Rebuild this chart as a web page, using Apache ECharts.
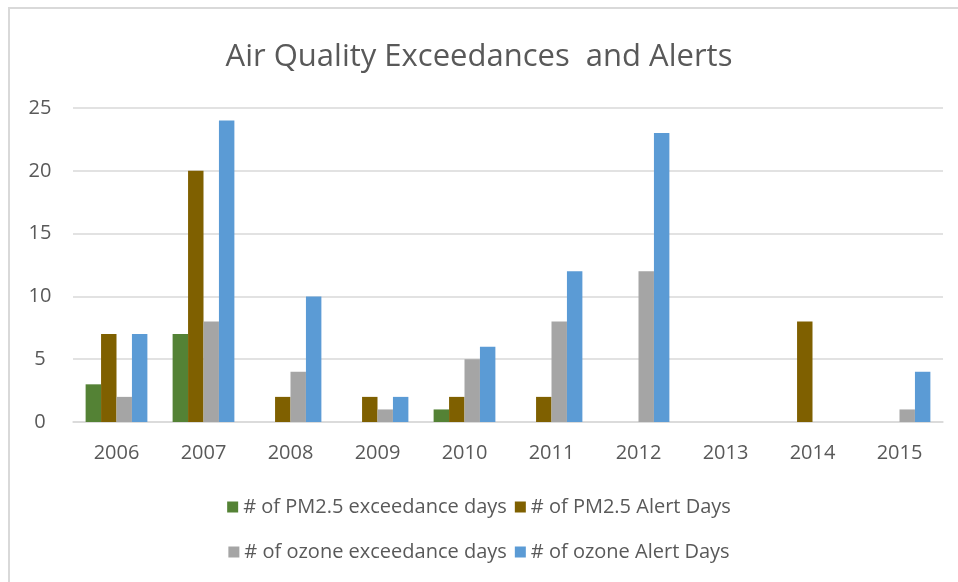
<!DOCTYPE html>
<html>
<head>
<meta charset="utf-8">
<script src="https://cdn.jsdelivr.net/npm/echarts@6/dist/echarts.min.js"></script>
<style>
  html, body { margin: 0; padding: 0; background: #fff; }
  #main { width: 958px; height: 582px; }
</style>
</head>
<body>
<div id="main"></div>
<script>
let years = ["2006", "2007", "2008", "2009", "2010", "2011", "2012", "2013", "2014", "2015"];
let pmExceed = [3, 7, 0, 0, 1, 0, 0, 0, 0, 0];
let pmAlert = [7, 20, 2, 2, 2, 2, 0, 0, 8, 0];
let ozoneExceed = [2, 8, 4, 1, 5, 8, 12, 0, 0, 1];
let ozoneAlert = [7, 24, 10, 2, 6, 12, 23, 0, 0, 4];
let seriesNames = ["# of PM2.5 exceedance days", "# of PM2.5 Alert Days", "# of ozone exceedance days", "# of ozone Alert Days"];

let font = "'Open Sans', 'Liberation Sans', sans-serif";
let chart = echarts.init(document.getElementById("main"));

function barSeries(name, data) {
    return {
        name: name,
        type: 'bar',
        data: data,
        barGap: '0%',
        barCategoryGap: '29%',
        emphasis: { disabled: true }
    };
}

function legendRow(names, top) {
    return {
        data: names,
        top: top,
        left: 'center',
        itemWidth: 11,
        itemHeight: 11,
        itemGap: 8,
        icon: 'rect',
        textStyle: { fontSize: 20, color: "#595959", fontFamily: font, padding: [0, 0, 0, 0] }
    };
}

let option = {
    animation: false,
    color: ["#548235", "#7f6000", "#a5a5a5", "#5b9bd5"],
    textStyle: { fontFamily: font, color: "#595959" },
    title: {
        text: 'Air Quality Exceedances  and Alerts',
        left: 'center',
        top: 37,
        textStyle: {
            fontFamily: font,
            fontSize: 31,
            fontWeight: 'normal',
            color: "#595959"
        }
    },
    legend: [
        legendRow(seriesNames.slice(0, 2), 492),
        legendRow(seriesNames.slice(2, 4), 537)
    ],
    grid: {
        left: 73,
        right: 15,
        top: 108,
        bottom: 160,
        containLabel: false
    },
    xAxis: {
        type: 'category',
        data: years,
        axisLine: { lineStyle: { color: "#d9d9d9", width: 1.5 } },
        axisTick: { show: false },
        axisLabel: { fontSize: 20, color: "#595959", margin: 21 }
    },
    yAxis: {
        type: 'value',
        min: 0,
        max: 25,
        interval: 5,
        axisLine: { show: false },
        axisTick: { show: false },
        splitLine: { lineStyle: { color: "#d9d9d9", width: 1.5 } },
        axisLabel: { fontSize: 20, color: "#595959", margin: 33, align: 'center' }
    },
    graphic: [
        {
            type: 'rect',
            shape: { x: 9, y: 8, width: 960, height: 590 },
            style: { fill: 'none', stroke: '#d9d9d9', lineWidth: 2 },
            silent: true
        }
    ],
    series: [
        barSeries(seriesNames[0], pmExceed),
        barSeries(seriesNames[1], pmAlert),
        barSeries(seriesNames[2], ozoneExceed),
        barSeries(seriesNames[3], ozoneAlert)
    ]
};

chart.setOption(option);
</script>
</body>
</html>
